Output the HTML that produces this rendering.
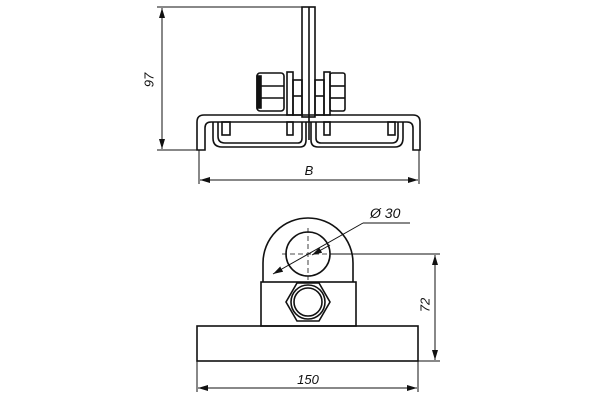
<!DOCTYPE html>
<html><head><meta charset="utf-8"><style>
html,body{margin:0;padding:0;background:#fff;width:600px;height:400px;overflow:hidden}
svg{display:block}
text{font-family:"Liberation Sans",sans-serif;font-style:italic;fill:#111}
</style></head><body>
<svg width="600" height="400" viewBox="0 0 600 400" xmlns="http://www.w3.org/2000/svg">
<defs>
<marker id="a" viewBox="0 0 10 6" refX="10" refY="3" markerWidth="10" markerHeight="6" orient="auto-start-reverse" markerUnits="userSpaceOnUse"><path d="M0,0 L10,3 L0,6 z" fill="#111"/></marker>
</defs>
<g fill="none" stroke="#111" stroke-width="1">
<!-- top view dims -->
<line x1="157" y1="7" x2="302" y2="7"/>
<line x1="157" y1="150" x2="199" y2="150"/>
<line x1="162" y1="8" x2="162" y2="149" marker-start="url(#a)" marker-end="url(#a)"/>
<line x1="199" y1="150" x2="199" y2="184"/>
<line x1="419" y1="150" x2="419" y2="184"/>
<line x1="200" y1="180" x2="418" y2="180" marker-start="url(#a)" marker-end="url(#a)"/>
</g>
<g fill="none" stroke="#111" stroke-width="1.6">
<!-- vertical plate -->
<rect x="302" y="7" width="13" height="110"/>
<line x1="309" y1="7" x2="309" y2="140"/>
<!-- outer U -->
<path d="M197,150 V122 Q197,115 204,115 H413 Q420,115 420,122 V150 H413 V128 Q413,122 407,122 H211 Q205,122 205,128 V150 Z"/>
<!-- channels -->
<path d="M213,122 V138 Q213,147 222,147 H300 Q306,147 306,140 V122"/>
<path d="M218,122 V136 Q218,143 225,143 H298 Q302,143 302,138 V122"/>
<path d="M311,122 V140 Q311,147 318,147 H395 Q403,147 403,138 V122"/>
<path d="M316,122 V138 Q316,143 321,143 H392 Q398,143 398,136 V122"/>
<rect x="222" y="122" width="8" height="13"/>
<rect x="287" y="122" width="6" height="13"/>
<rect x="324" y="122" width="6" height="13"/>
<rect x="388" y="122" width="7" height="13"/>
<!-- nuts -->
<rect x="257" y="73" width="27" height="38" rx="3"/>
<line x1="260" y1="86" x2="284" y2="86"/><line x1="260" y1="98" x2="284" y2="98"/>
<rect x="257" y="76" width="4" height="32" fill="#111"/>
<rect x="287" y="72" width="6" height="43"/>
<rect x="293" y="80" width="9" height="35"/>
<line x1="293" y1="96" x2="302" y2="96"/>
<rect x="315" y="80" width="9" height="35"/>
<line x1="315" y1="96" x2="324" y2="96"/>
<rect x="324" y="72" width="6" height="43"/>
<rect x="330" y="73" width="15" height="38" rx="2"/>
<line x1="330" y1="86" x2="345" y2="86"/><line x1="330" y1="98" x2="345" y2="98"/>
<!-- front view -->
<rect x="197" y="326" width="221" height="35"/>
<rect x="261" y="282" width="95" height="44"/>
<path d="M263,282 V263 A45,45 0 0 1 353,263 V282"/>
<circle cx="308" cy="254" r="22"/>
<polygon points="330,302 319,321 297,321 286,302 297,283 319,283"/>
<circle cx="308" cy="302" r="17"/>
<circle cx="308" cy="302" r="14"/>
</g>
<g fill="none" stroke="#111" stroke-width="0.8" stroke-dasharray="5,3">
<line x1="282" y1="254" x2="334" y2="254"/>
<line x1="308" y1="228" x2="308" y2="280"/>
</g>
<g fill="none" stroke="#111" stroke-width="1">
<line x1="273" y1="274" x2="363" y2="223" marker-start="url(#a)"/>
<line x1="363" y1="223" x2="410" y2="223"/>
<line x1="330" y1="254" x2="440" y2="254"/>
<line x1="418" y1="361" x2="440" y2="361"/>
<line x1="435" y1="255" x2="435" y2="360" marker-start="url(#a)" marker-end="url(#a)"/>
<line x1="197" y1="361" x2="197" y2="392"/>
<line x1="418" y1="361" x2="418" y2="392"/>
<line x1="198" y1="388" x2="417" y2="388" marker-start="url(#a)" marker-end="url(#a)"/>
</g>
<line x1="330" y1="245" x2="312" y2="255" stroke="#111" stroke-width="1" marker-end="url(#a)"/>
<text x="150" y="80" font-size="13" transform="rotate(-90 150 80)" text-anchor="middle" dominant-baseline="middle">97</text>
<text x="309" y="175" font-size="13" text-anchor="middle">B</text>
<text x="370" y="218" font-size="14">Ø 30</text>
<text x="426" y="305" font-size="13" transform="rotate(-90 426 305)" text-anchor="middle" dominant-baseline="middle">72</text>
<text x="308" y="384" font-size="13" text-anchor="middle">150</text>
</svg>
</body></html>
